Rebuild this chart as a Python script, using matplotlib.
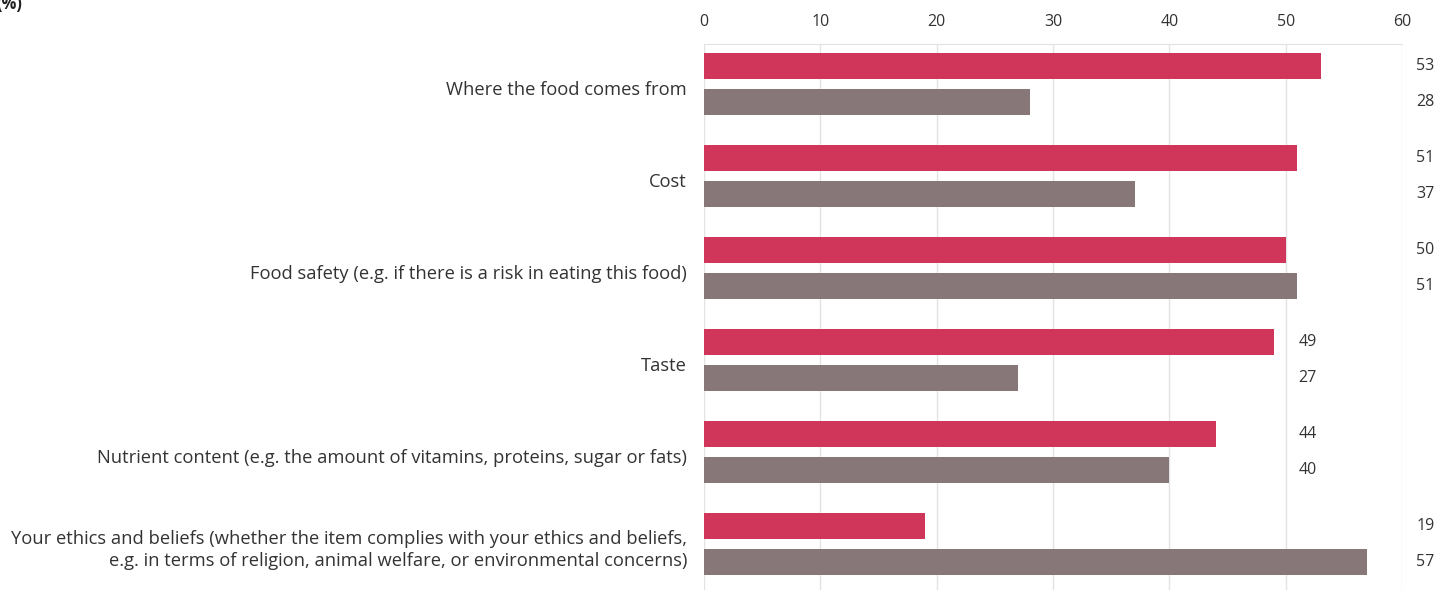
import numpy as np
import matplotlib.pyplot as plt
from matplotlib.transforms import ScaledTranslation

plt.rcParams['font.family'] = ['Open Sans', 'DejaVu Sans']

categories = [
    "Where the food comes from",
    "Cost",
    "Food safety (e.g. if there is a risk in eating this food)",
    "Taste",
    "Nutrient content (e.g. the amount of vitamins, proteins, sugar or fats)",
    "Your ethics and beliefs (whether the item complies with your ethics and beliefs,\n"
    "e.g. in terms of religion, animal welfare, or environmental concerns)",
]
series_a = [53, 51, 50, 49, 44, 19]
series_b = [28, 37, 51, 27, 40, 57]
# x position of the value labels for each group
label_x = [61.2, 61.2, 61.2, 51.1, 51.1, 61.2]

RED = "#d0355a"
GREY = "#887779"
TEXT = "#333333"

fig = plt.figure(figsize=(14.36, 5.9), dpi=100)
ax = fig.add_axes([0.4903, 0.0, 0.4861, 0.9254])

y = np.arange(len(categories))
h = 0.283
off = 0.196
ax.barh(y - off, series_a, height=h, color=RED, zorder=3)
ax.barh(y + off, series_b, height=h, color=GREY, zorder=3)

for i in range(len(categories)):
    ax.text(label_x[i], y[i] - off, str(series_a[i]), ha="left", va="center",
            fontsize=11.5, color=TEXT, clip_on=False)
    ax.text(label_x[i], y[i] + off, str(series_b[i]), ha="left", va="center",
            fontsize=11.5, color=TEXT, clip_on=False)

# category names, right aligned left of the axis and nudged slightly down
name_tr = ax.get_yaxis_transform() + ScaledTranslation(-0.17, -0.06, fig.dpi_scale_trans)
for i, name in enumerate(categories):
    ax.text(0, y[i], name, transform=name_tr, ha="right", va="center",
            multialignment="right", fontsize=13.2, color=TEXT,
            linespacing=1.25, clip_on=False)

ax.set_xlim(0, 60)
ax.set_ylim(5.5, -0.435)
ax.set_xticks(range(0, 61, 10))
ax.xaxis.tick_top()
ax.tick_params(axis="x", length=0, pad=10, labelsize=11.5, labelcolor=TEXT)
ax.set_yticks([])

ax.grid(axis="x", color="#e3e3e3", linewidth=1, zorder=0)
for s in ["right", "bottom", "left"]:
    ax.spines[s].set_visible(False)
ax.spines["top"].set_color("#e3e3e3")

fig.text(22 / 1436, 1 - 4 / 590, "(%)", ha="right", va="center", fontsize=12,
         fontweight="bold", color="#222222")

fig.savefig("out.png", dpi=100)
